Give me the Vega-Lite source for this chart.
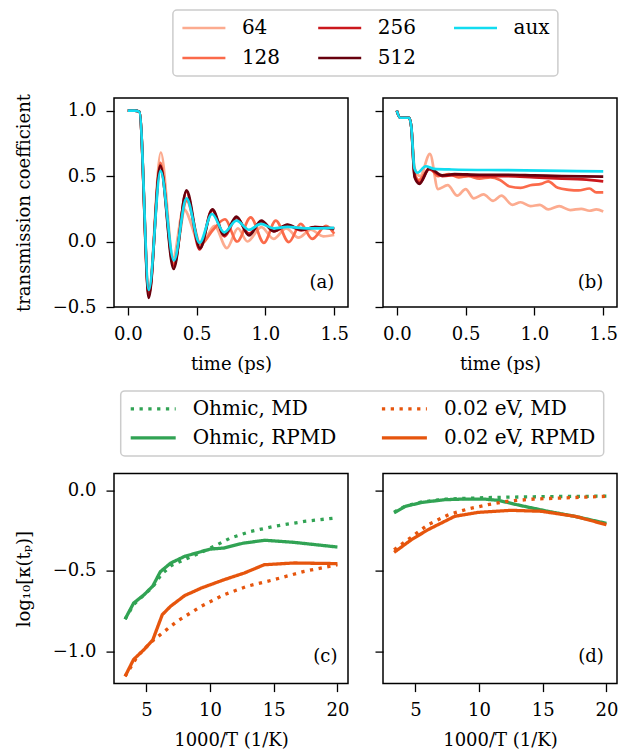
{
  "$schema": "https://vega.github.io/schema/vega-lite/v6.json",
  "padding": {"left": 14, "top": 8, "right": 2, "bottom": 2},
  "background": "white",
  "datasets": {
    "a": [
      {"s":"64","t":0,"v":1},{"s":"64","t":0.05,"v":1},{"s":"64","t":0.085,"v":0.99},{"s":"64","t":0.153,"v":-0.38},{"s":"64","t":0.24,"v":0.68},{"s":"64","t":0.33,"v":-0.12},{"s":"64","t":0.405,"v":0.25},{"s":"64","t":0.53,"v":-0.03},{"s":"64","t":0.63,"v":0.12},{"s":"64","t":0.72,"v":-0.05},{"s":"64","t":0.8,"v":0.1},{"s":"64","t":0.87,"v":0.0},{"s":"64","t":0.97,"v":0.11},{"s":"64","t":1.06,"v":0.02},{"s":"64","t":1.15,"v":0.1},{"s":"64","t":1.24,"v":0.03},{"s":"64","t":1.33,"v":0.09},{"s":"64","t":1.42,"v":0.04},{"s":"64","t":1.5,"v":0.05},
      {"s":"128","t":0,"v":1},{"s":"128","t":0.05,"v":1},{"s":"128","t":0.085,"v":0.99},{"s":"128","t":0.153,"v":-0.4},{"s":"128","t":0.237,"v":0.6},{"s":"128","t":0.333,"v":-0.17},{"s":"128","t":0.428,"v":0.31},{"s":"128","t":0.53,"v":-0.02},{"s":"128","t":0.62,"v":0.09},{"s":"128","t":0.706,"v":0.17},{"s":"128","t":0.795,"v":0.0},{"s":"128","t":0.893,"v":0.185},{"s":"128","t":0.989,"v":-0.01},{"s":"128","t":1.075,"v":0.16},{"s":"128","t":1.17,"v":-0.005},{"s":"128","t":1.257,"v":0.135},{"s":"128","t":1.34,"v":0.02},{"s":"128","t":1.44,"v":0.12},{"s":"128","t":1.5,"v":0.06},
      {"s":"256","t":0,"v":1},{"s":"256","t":0.05,"v":1},{"s":"256","t":0.085,"v":0.99},{"s":"256","t":0.153,"v":-0.41},{"s":"256","t":0.237,"v":0.57},{"s":"256","t":0.334,"v":-0.19},{"s":"256","t":0.426,"v":0.38},{"s":"256","t":0.522,"v":-0.06},{"s":"256","t":0.612,"v":0.24},{"s":"256","t":0.703,"v":0.04},{"s":"256","t":0.79,"v":0.18},{"s":"256","t":0.882,"v":0.06},{"s":"256","t":0.972,"v":0.15},{"s":"256","t":1.065,"v":0.08},{"s":"256","t":1.16,"v":0.125},{"s":"256","t":1.26,"v":0.085},{"s":"256","t":1.36,"v":0.11},{"s":"256","t":1.5,"v":0.1},
      {"s":"512","t":0,"v":1},{"s":"512","t":0.05,"v":1},{"s":"512","t":0.085,"v":0.99},{"s":"512","t":0.153,"v":-0.43},{"s":"512","t":0.236,"v":0.58},{"s":"512","t":0.333,"v":-0.21},{"s":"512","t":0.427,"v":0.39},{"s":"512","t":0.525,"v":-0.05},{"s":"512","t":0.615,"v":0.245},{"s":"512","t":0.7,"v":0.05},{"s":"512","t":0.79,"v":0.19},{"s":"512","t":0.88,"v":0.046},{"s":"512","t":0.97,"v":0.16},{"s":"512","t":1.06,"v":0.078},{"s":"512","t":1.16,"v":0.13},{"s":"512","t":1.26,"v":0.09},{"s":"512","t":1.36,"v":0.11},{"s":"512","t":1.5,"v":0.095},
      {"s":"aux","t":0,"v":1},{"s":"aux","t":0.05,"v":1},{"s":"aux","t":0.085,"v":0.99},{"s":"aux","t":0.153,"v":-0.37},{"s":"aux","t":0.238,"v":0.54},{"s":"aux","t":0.335,"v":-0.145},{"s":"aux","t":0.427,"v":0.33},{"s":"aux","t":0.522,"v":-0.01},{"s":"aux","t":0.612,"v":0.21},{"s":"aux","t":0.7,"v":0.07},{"s":"aux","t":0.79,"v":0.16},{"s":"aux","t":0.88,"v":0.09},{"s":"aux","t":0.967,"v":0.135},{"s":"aux","t":1.06,"v":0.1},{"s":"aux","t":1.16,"v":0.112},{"s":"aux","t":1.3,"v":0.1},{"s":"aux","t":1.5,"v":0.105}
    ],
    "b": [
      {"s":"64","t":0,"v":1},{"s":"64","t":0.025,"v":0.945},{"s":"64","t":0.09,"v":0.945},{"s":"64","t":0.105,"v":0.88},{"s":"64","t":0.13,"v":0.56},{"s":"64","t":0.17,"v":0.5},{"s":"64","t":0.241,"v":0.67},{"s":"64","t":0.3,"v":0.4},{"s":"64","t":0.37,"v":0.43},{"s":"64","t":0.44,"v":0.35},{"s":"64","t":0.5,"v":0.4},{"s":"64","t":0.56,"v":0.33},{"s":"64","t":0.63,"v":0.36},{"s":"64","t":0.7,"v":0.31},{"s":"64","t":0.76,"v":0.35},{"s":"64","t":0.84,"v":0.28},{"s":"64","t":0.9,"v":0.3},{"s":"64","t":0.97,"v":0.27},{"s":"64","t":1.04,"v":0.28},{"s":"64","t":1.1,"v":0.245},{"s":"64","t":1.18,"v":0.27},{"s":"64","t":1.26,"v":0.24},{"s":"64","t":1.34,"v":0.25},{"s":"64","t":1.4,"v":0.235},{"s":"64","t":1.45,"v":0.245},{"s":"64","t":1.5,"v":0.23},
      {"s":"128","t":0,"v":1},{"s":"128","t":0.025,"v":0.945},{"s":"128","t":0.09,"v":0.945},{"s":"128","t":0.105,"v":0.88},{"s":"128","t":0.13,"v":0.52},{"s":"128","t":0.16,"v":0.47},{"s":"128","t":0.24,"v":0.56},{"s":"128","t":0.3,"v":0.5},{"s":"128","t":0.38,"v":0.515},{"s":"128","t":0.45,"v":0.49},{"s":"128","t":0.52,"v":0.5},{"s":"128","t":0.6,"v":0.48},{"s":"128","t":0.68,"v":0.49},{"s":"128","t":0.75,"v":0.47},{"s":"128","t":0.82,"v":0.42},{"s":"128","t":0.9,"v":0.41},{"s":"128","t":0.97,"v":0.43},{"s":"128","t":1.05,"v":0.44},{"s":"128","t":1.1,"v":0.46},{"s":"128","t":1.17,"v":0.41},{"s":"128","t":1.25,"v":0.395},{"s":"128","t":1.32,"v":0.39},{"s":"128","t":1.4,"v":0.405},{"s":"128","t":1.45,"v":0.375},{"s":"128","t":1.5,"v":0.375},
      {"s":"256","t":0,"v":1},{"s":"256","t":0.025,"v":0.945},{"s":"256","t":0.09,"v":0.945},{"s":"256","t":0.105,"v":0.88},{"s":"256","t":0.13,"v":0.5},{"s":"256","t":0.165,"v":0.45},{"s":"256","t":0.235,"v":0.55},{"s":"256","t":0.33,"v":0.5},{"s":"256","t":0.45,"v":0.51},{"s":"256","t":0.6,"v":0.5},{"s":"256","t":0.8,"v":0.5},{"s":"256","t":1.0,"v":0.49},{"s":"256","t":1.2,"v":0.48},{"s":"256","t":1.35,"v":0.475},{"s":"256","t":1.5,"v":0.46},
      {"s":"512","t":0,"v":1},{"s":"512","t":0.025,"v":0.945},{"s":"512","t":0.09,"v":0.945},{"s":"512","t":0.105,"v":0.88},{"s":"512","t":0.13,"v":0.49},{"s":"512","t":0.165,"v":0.44},{"s":"512","t":0.237,"v":0.56},{"s":"512","t":0.33,"v":0.505},{"s":"512","t":0.42,"v":0.515},{"s":"512","t":0.6,"v":0.51},{"s":"512","t":0.8,"v":0.51},{"s":"512","t":1.0,"v":0.505},{"s":"512","t":1.2,"v":0.5},{"s":"512","t":1.5,"v":0.495},
      {"s":"aux","t":0,"v":1},{"s":"aux","t":0.025,"v":0.945},{"s":"aux","t":0.09,"v":0.945},{"s":"aux","t":0.105,"v":0.88},{"s":"aux","t":0.128,"v":0.56},{"s":"aux","t":0.15,"v":0.525},{"s":"aux","t":0.21,"v":0.575},{"s":"aux","t":0.27,"v":0.555},{"s":"aux","t":0.4,"v":0.55},{"s":"aux","t":0.8,"v":0.545},{"s":"aux","t":1.2,"v":0.54},{"s":"aux","t":1.5,"v":0.535}
    ],
    "c": [
      {"s":"Ohmic, MD","x":3.33,"v":-0.8},{"s":"Ohmic, MD","x":4.0,"v":-0.71},{"s":"Ohmic, MD","x":4.8,"v":-0.65},{"s":"Ohmic, MD","x":5.5,"v":-0.6},{"s":"Ohmic, MD","x":6.2,"v":-0.52},{"s":"Ohmic, MD","x":7.0,"v":-0.465},{"s":"Ohmic, MD","x":8.0,"v":-0.43},{"s":"Ohmic, MD","x":10.0,"v":-0.36},{"s":"Ohmic, MD","x":11.6,"v":-0.296},{"s":"Ohmic, MD","x":13.2,"v":-0.255},{"s":"Ohmic, MD","x":15.0,"v":-0.224},{"s":"Ohmic, MD","x":17.4,"v":-0.193},{"s":"Ohmic, MD","x":20,"v":-0.17},
      {"s":"Ohmic, RPMD","x":3.33,"v":-0.8},{"s":"Ohmic, RPMD","x":4.0,"v":-0.7},{"s":"Ohmic, RPMD","x":4.8,"v":-0.65},{"s":"Ohmic, RPMD","x":5.5,"v":-0.595},{"s":"Ohmic, RPMD","x":6.1,"v":-0.505},{"s":"Ohmic, RPMD","x":6.9,"v":-0.452},{"s":"Ohmic, RPMD","x":8.0,"v":-0.41},{"s":"Ohmic, RPMD","x":10.0,"v":-0.365},{"s":"Ohmic, RPMD","x":11.1,"v":-0.358},{"s":"Ohmic, RPMD","x":12.6,"v":-0.328},{"s":"Ohmic, RPMD","x":14.3,"v":-0.31},{"s":"Ohmic, RPMD","x":16.6,"v":-0.323},{"s":"Ohmic, RPMD","x":20,"v":-0.352},
      {"s":"0.02 eV, MD","x":3.33,"v":-1.155},{"s":"0.02 eV, MD","x":4.3,"v":-1.03},{"s":"0.02 eV, MD","x":5.35,"v":-0.944},{"s":"0.02 eV, MD","x":6.1,"v":-0.896},{"s":"0.02 eV, MD","x":7.4,"v":-0.814},{"s":"0.02 eV, MD","x":9.3,"v":-0.72},{"s":"0.02 eV, MD","x":11.1,"v":-0.648},{"s":"0.02 eV, MD","x":12.9,"v":-0.596},{"s":"0.02 eV, MD","x":15.0,"v":-0.555},{"s":"0.02 eV, MD","x":17.4,"v":-0.503},{"s":"0.02 eV, MD","x":20,"v":-0.462},
      {"s":"0.02 eV, RPMD","x":3.33,"v":-1.155},{"s":"0.02 eV, RPMD","x":4.0,"v":-1.05},{"s":"0.02 eV, RPMD","x":4.8,"v":-0.99},{"s":"0.02 eV, RPMD","x":5.5,"v":-0.93},{"s":"0.02 eV, RPMD","x":6.25,"v":-0.772},{"s":"0.02 eV, RPMD","x":6.9,"v":-0.72},{"s":"0.02 eV, RPMD","x":8.0,"v":-0.654},{"s":"0.02 eV, RPMD","x":9.3,"v":-0.607},{"s":"0.02 eV, RPMD","x":11.1,"v":-0.555},{"s":"0.02 eV, RPMD","x":12.7,"v":-0.513},{"s":"0.02 eV, RPMD","x":14.25,"v":-0.462},{"s":"0.02 eV, RPMD","x":16.6,"v":-0.451},{"s":"0.02 eV, RPMD","x":20,"v":-0.455}
    ],
    "d": [
      {"s":"Ohmic, MD","x":3.33,"v":-0.135},{"s":"Ohmic, MD","x":4.2,"v":-0.098},{"s":"Ohmic, MD","x":5.5,"v":-0.072},{"s":"Ohmic, MD","x":7.3,"v":-0.055},{"s":"Ohmic, MD","x":8.9,"v":-0.05},{"s":"Ohmic, MD","x":10.5,"v":-0.045},{"s":"Ohmic, MD","x":12.5,"v":-0.042},{"s":"Ohmic, MD","x":14.3,"v":-0.04},{"s":"Ohmic, MD","x":16.7,"v":-0.038},{"s":"Ohmic, MD","x":20,"v":-0.036},
      {"s":"Ohmic, RPMD","x":3.33,"v":-0.14},{"s":"Ohmic, RPMD","x":4.2,"v":-0.1},{"s":"Ohmic, RPMD","x":5.5,"v":-0.075},{"s":"Ohmic, RPMD","x":7.3,"v":-0.058},{"s":"Ohmic, RPMD","x":8.9,"v":-0.054},{"s":"Ohmic, RPMD","x":10.5,"v":-0.055},{"s":"Ohmic, RPMD","x":11.5,"v":-0.062},{"s":"Ohmic, RPMD","x":13.3,"v":-0.095},{"s":"Ohmic, RPMD","x":15.4,"v":-0.13},{"s":"Ohmic, RPMD","x":17.5,"v":-0.161},{"s":"Ohmic, RPMD","x":20,"v":-0.205},
      {"s":"0.02 eV, MD","x":3.33,"v":-0.369},{"s":"0.02 eV, MD","x":4.7,"v":-0.29},{"s":"0.02 eV, MD","x":6.0,"v":-0.213},{"s":"0.02 eV, MD","x":7.6,"v":-0.151},{"s":"0.02 eV, MD","x":9.1,"v":-0.116},{"s":"0.02 eV, MD","x":10.7,"v":-0.089},{"s":"0.02 eV, MD","x":12.2,"v":-0.068},{"s":"0.02 eV, MD","x":14.3,"v":-0.054},{"s":"0.02 eV, MD","x":16.4,"v":-0.048},{"s":"0.02 eV, MD","x":20,"v":-0.037},
      {"s":"0.02 eV, RPMD","x":3.33,"v":-0.385},{"s":"0.02 eV, RPMD","x":4.7,"v":-0.306},{"s":"0.02 eV, RPMD","x":6.0,"v":-0.244},{"s":"0.02 eV, RPMD","x":8.1,"v":-0.161},{"s":"0.02 eV, RPMD","x":9.9,"v":-0.137},{"s":"0.02 eV, RPMD","x":12.5,"v":-0.124},{"s":"0.02 eV, RPMD","x":14.9,"v":-0.13},{"s":"0.02 eV, RPMD","x":17.5,"v":-0.161},{"s":"0.02 eV, RPMD","x":20,"v":-0.213}
    ]
  },
  "vconcat": [
    {
      "hconcat": [
        {
          "width": 234, "height": 209,
          "layer": [
            {
              "data": {"name": "a"},
              "mark": {"type": "line", "strokeWidth": 2.7, "interpolate": "monotone"},
              "encoding": {
                "x": {"field": "t", "type": "quantitative", "scale": {"domain": [-0.1, 1.6], "nice": false, "zero": false}, "axis": {"values": [0, 0.5, 1, 1.5], "format": ".1f", "title": "time (ps)"}},
                "y": {"field": "v", "type": "quantitative", "scale": {"domain": [-0.5, 1.096], "nice": false, "zero": false}, "axis": {"values": [-0.5, 0, 0.5, 1], "format": ".1f", "title": "transmission coefficient"}},
                "color": {"field": "s", "type": "nominal",
                  "scale": {"domain": ["64", "128", "256", "512", "aux"], "range": ["#fcab8f", "#fb6a4a", "#cb181d", "#67000d", "#12dcf0"]},
                  "legend": {"orient": "none", "legendX": 58.9, "legendY": -88, "columns": 3, "title": null, "symbolType": "stroke", "symbolSize": 1849, "symbolStrokeWidth": 2.6, "clipHeight": 20, "labelOffset": 15, "columnPadding": 35.8, "rowPadding": 10, "padding": 8}
                }
              }
            },
            {
              "data": {"values": [{"label": "(a)", "t": 1.5, "v": -0.317}]},
              "mark": {"type": "text", "align": "right", "baseline": "middle"},
              "encoding": {"x": {"field": "t", "type": "quantitative"}, "y": {"field": "v", "type": "quantitative"}, "text": {"field": "label"}}
            }
          ]
        },
        {
          "width": 234, "height": 209,
          "layer": [
            {
              "data": {"name": "b"},
              "mark": {"type": "line", "strokeWidth": 2.7, "interpolate": "monotone"},
              "encoding": {
                "x": {"field": "t", "type": "quantitative", "scale": {"domain": [-0.1, 1.6], "nice": false, "zero": false}, "axis": {"values": [0, 0.5, 1, 1.5], "format": ".1f", "title": "time (ps)"}},
                "y": {"field": "v", "type": "quantitative", "scale": {"domain": [-0.5, 1.096], "nice": false, "zero": false}, "axis": {"values": [-0.5, 0, 0.5, 1], "labels": false, "title": null}},
                "color": {"field": "s", "type": "nominal",
                  "scale": {"domain": ["64", "128", "256", "512", "aux"], "range": ["#fcab8f", "#fb6a4a", "#cb181d", "#67000d", "#12dcf0"]},
                  "legend": null
                }
              }
            },
            {
              "data": {"values": [{"label": "(b)", "t": 1.5, "v": -0.317}]},
              "mark": {"type": "text", "align": "right", "baseline": "middle"},
              "encoding": {"x": {"field": "t", "type": "quantitative"}, "y": {"field": "v", "type": "quantitative"}, "text": {"field": "label"}}
            }
          ]
        }
      ],
      "spacing": 35,
      "bounds": "flush",
      "resolve": {"scale": {"color": "independent"}, "legend": {"color": "independent"}}
    },
    {
      "hconcat": [
        {
          "width": 234, "height": 210,
          "layer": [
            {
              "data": {"name": "c"},
              "mark": {"type": "line", "strokeWidth": 3.3},
              "encoding": {
                "x": {"field": "x", "type": "quantitative", "scale": {"domain": [2.46, 20.83], "nice": false, "zero": false}, "axis": {"values": [5, 10, 15, 20], "title": "1000/T (1/K)"}},
                "y": {"field": "v", "type": "quantitative", "scale": {"domain": [-1.2, 0.104], "nice": false, "zero": false}, "axis": {"values": [-1, -0.5, 0], "format": ".1f", "title": "log₁₀[κ(tₚ)]"}},
                "color": {"field": "s", "type": "nominal",
                  "scale": {"domain": ["Ohmic, MD", "Ohmic, RPMD", "0.02 eV, MD", "0.02 eV, RPMD"], "range": ["#31a354", "#31a354", "#e6550d", "#e6550d"]},
                  "legend": {"orient": "none", "legendX": 6.7, "legendY": -82.7, "columns": 2, "title": null, "symbolType": "stroke", "symbolSize": 2025, "symbolStrokeWidth": 3.3, "clipHeight": 20, "labelOffset": 15, "columnPadding": 43.2, "rowPadding": 9, "padding": 8}
                },
                "strokeDash": {"field": "s", "type": "nominal",
                  "scale": {"domain": ["Ohmic, MD", "Ohmic, RPMD", "0.02 eV, MD", "0.02 eV, RPMD"], "range": [[3.3, 5.5], [1, 0], [3.3, 5.5], [1, 0]]}
                }
              }
            },
            {
              "data": {"values": [{"label": "(c)", "x": 20, "v": -1.033}]},
              "mark": {"type": "text", "align": "right", "baseline": "middle"},
              "encoding": {"x": {"field": "x", "type": "quantitative"}, "y": {"field": "v", "type": "quantitative"}, "text": {"field": "label"}}
            }
          ]
        },
        {
          "width": 234, "height": 210,
          "layer": [
            {
              "data": {"name": "d"},
              "mark": {"type": "line", "strokeWidth": 3.3},
              "encoding": {
                "x": {"field": "x", "type": "quantitative", "scale": {"domain": [2.46, 20.83], "nice": false, "zero": false}, "axis": {"values": [5, 10, 15, 20], "title": "1000/T (1/K)"}},
                "y": {"field": "v", "type": "quantitative", "scale": {"domain": [-1.2, 0.104], "nice": false, "zero": false}, "axis": {"values": [-1, -0.5, 0], "labels": false, "title": null}},
                "color": {"field": "s", "type": "nominal",
                  "scale": {"domain": ["Ohmic, MD", "Ohmic, RPMD", "0.02 eV, MD", "0.02 eV, RPMD"], "range": ["#31a354", "#31a354", "#e6550d", "#e6550d"]},
                  "legend": null
                },
                "strokeDash": {"field": "s", "type": "nominal",
                  "scale": {"domain": ["Ohmic, MD", "Ohmic, RPMD", "0.02 eV, MD", "0.02 eV, RPMD"], "range": [[3.3, 5.5], [1, 0], [3.3, 5.5], [1, 0]]},
                  "legend": null
                }
              }
            },
            {
              "data": {"values": [{"label": "(d)", "x": 19.8, "v": -1.033}]},
              "mark": {"type": "text", "align": "right", "baseline": "middle"},
              "encoding": {"x": {"field": "x", "type": "quantitative"}, "y": {"field": "v", "type": "quantitative"}, "text": {"field": "label"}}
            }
          ]
        }
      ],
      "spacing": 35,
      "bounds": "flush",
      "resolve": {"scale": {"color": "independent", "strokeDash": "independent"}, "legend": {"color": "independent", "strokeDash": "independent"}}
    }
  ],
  "spacing": 375.6,
  "bounds": "flush",
  "resolve": {"scale": {"color": "independent", "strokeDash": "independent"}, "legend": {"color": "independent", "strokeDash": "independent"}},
  "config": {
    "view": {"stroke": "black", "strokeWidth": 1.5},
    "axis": {"grid": false, "domain": false, "tickColor": "black", "tickSize": 8, "tickWidth": 1.3, "labelFont": "DejaVu Serif", "labelFontSize": 18, "labelColor": "black", "labelPadding": 10, "labelFlush": false, "labelOverlap": false, "titleFont": "DejaVu Serif", "titleFontSize": 18, "titleFontWeight": "normal", "titleColor": "black", "titlePadding": 12},
    "axisY": {"titlePadding": 19},
    "legend": {"strokeColor": "#cccccc", "strokeWidth": 1.5, "cornerRadius": 4, "fillColor": "white", "labelFont": "DejaVu Serif", "labelFontSize": 20, "labelColor": "black", "labelLimit": 400},
    "text": {"font": "DejaVu Serif", "fontSize": 18, "color": "black"}
  }
}
